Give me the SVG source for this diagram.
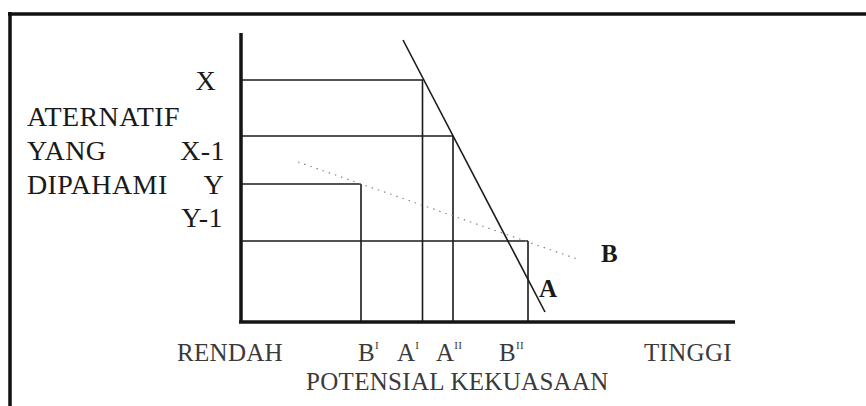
<svg xmlns="http://www.w3.org/2000/svg" width="866" height="406" viewBox="0 0 866 406">
<style>
.frame{stroke:#111;stroke-width:3.5;fill:none}
.axis{stroke:#151515;stroke-width:3.5;fill:none}
.thin{stroke:#1a1a1a;stroke-width:1.6;fill:none}
.dot{stroke:#888;stroke-width:1.2;stroke-dasharray:1.5 5;fill:none}
.lbl{font-family:"Liberation Serif","Times New Roman",serif;font-size:28px;fill:#1a1a1a;letter-spacing:0.4px}
.bot{font-family:"Liberation Serif","Times New Roman",serif;font-size:25px;fill:#3a3a3a;letter-spacing:0.3px}
.sup{font-size:11px}
.bold{font-family:"Liberation Serif","Times New Roman",serif;font-size:25px;font-weight:bold;fill:#1a1a1a}
</style>
<rect width="866" height="406" fill="#fff"/>
<g id="frame">
<line class="frame" x1="8" y1="14" x2="866" y2="14"/>
<line class="frame" x1="10" y1="12" x2="10" y2="406"/>
</g>
<g id="axes">
<line class="axis" x1="241" y1="33" x2="241" y2="322"/>
<line class="axis" x1="239" y1="322" x2="735" y2="322"/>
</g>
<g id="connectors">
<line class="thin" x1="241" y1="80" x2="423" y2="80"/>
<line class="thin" x1="241" y1="136" x2="453" y2="136"/>
<line class="thin" x1="241" y1="184" x2="361" y2="184"/>
<line class="thin" x1="241" y1="241" x2="528" y2="241"/>
<line class="thin" x1="361" y1="184" x2="361" y2="321"/>
<line class="thin" x1="422.5" y1="80" x2="422.5" y2="321"/>
<line class="thin" x1="453" y1="136" x2="453" y2="321"/>
<line class="thin" x1="528" y1="241" x2="528" y2="321"/>
<line class="thin" x1="403" y1="40" x2="545" y2="312"/>
<line class="dot" x1="298" y1="162" x2="580" y2="260"/>
</g>
<g id="y-labels">
<text class="lbl" x="216" y="90" text-anchor="end">X</text>
<text class="lbl" x="27" y="126">ATERNATIF</text>
<text class="lbl" x="27" y="160">YANG</text>
<text class="lbl" x="225" y="160" text-anchor="end">X-1</text>
<text class="lbl" x="27" y="194">DIPAHAMI</text>
<text class="lbl" x="224" y="194" text-anchor="end">Y</text>
<text class="lbl" x="223" y="227" text-anchor="end">Y-1</text>
</g>
<g id="line-labels">
<text class="bold" x="601" y="262">B</text>
<text class="bold" x="539" y="297">A</text>
</g>
<g id="x-labels">
<text class="bot" x="177" y="361">RENDAH</text>
<text class="bot" x="358" y="361">B<tspan class="sup" dy="-12">I</tspan></text>
<text class="bot" x="397" y="361">A<tspan class="sup" dy="-12">I</tspan></text>
<text class="bot" x="436" y="361">A<tspan class="sup" dy="-12">II</tspan></text>
<text class="bot" x="499" y="361">B<tspan class="sup" dy="-12">II</tspan></text>
<text class="bot" x="644" y="361">TINGGI</text>
<text class="bot" x="306" y="390">POTENSIAL KEKUASAAN</text>
</g>
</svg>
